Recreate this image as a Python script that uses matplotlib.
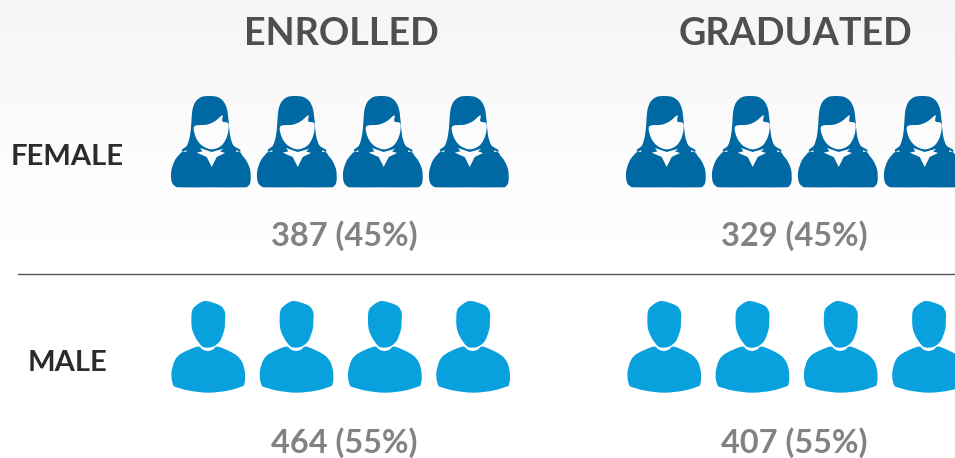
import numpy as np
import matplotlib
matplotlib.use("Agg")
import matplotlib.pyplot as plt
from matplotlib.path import Path
from matplotlib.patches import PathPatch
from matplotlib.transforms import Affine2D

columns = ["ENROLLED", "GRADUATED"]
rows = ["FEMALE", "MALE"]
labels = [["387 (45%)", "329 (45%)"], ["464 (55%)", "407 (55%)"]]
icons_per_row = [4, 4]

female_x = [[210.7, 296.7, 382.7, 468.7], [665.7, 751.7, 837.7, 923.7]]
male_x = [[207.7, 296, 384.3, 472.6], [663.7, 751.9, 840.2, 928.5]]
FEMALE_C, MALE_C = "#0068A3", "#08A0DD"
BLANK = "#FCFCFD"


def smooth(points):
    """Closed Catmull-Rom outline -> Path (zoomed px relative to icon centre)."""
    p = np.array(points, float)
    n = len(p)
    verts = [p[0]]
    codes = [Path.MOVETO]
    for i in range(n):
        p0, p1, p2, p3 = p[i - 1], p[i], p[(i + 1) % n], p[(i + 2) % n]
        verts += [p1 + (p2 - p0) / 6, p2 - (p3 - p1) / 6, p2]
        codes += [Path.CURVE4] * 3
    return Path(verts, codes)


def poly(points):
    return Path(list(points) + [points[0]], [Path.MOVETO] + [Path.LINETO] * (len(points) - 1) + [Path.CLOSEPOLY])


F_HAIR = [(-4, 12), (-28, 15), (-46, 30), (-55, 55), (-58, 90), (-62, 130), (-71, 160), (-86, 178), (-40, 200),
          (40, 200), (89, 178), (68, 160), (58, 130), (54, 90), (49, 52), (38, 28), (20, 15)]
F_BODY = [(-78, 178), (-96, 190), (-109, 208), (-118, 235), (-119, 258), (-115, 274), (-106, 283), (-92, 286), (0, 286),
          (98, 286), (111, 283), (118, 274), (120, 258), (118, 232), (108, 208), (96, 192), (80, 178), (0, 165)]
F_FACE = [(-49, 103), (-12, 98), (12, 88), (35, 70), (35, 88), (53, 95), (50, 130), (33, 160), (3, 172),
          (-27, 160), (-45, 135)]
F_COLLAR = [(-42, 182), (-25, 178), (-32, 168), (3, 180), (38, 170), (28, 178), (43, 183), (18, 195), (3, 225),
            (-12, 195)]
F_NOTCH_L = [(-85, 178), (-73, 175), (-73, 180)]
F_NOTCH_R = [(88, 178), (76, 175), (76, 180)]
M_HEAD = [(-8, 15), (22, 22), (42, 32), (52, 50), (52, 75), (50, 100), (38, 133), (20, 150), (0, 155), (-18, 150),
          (-38, 122), (-48, 92), (-47, 45), (-30, 25)]
M_BODY = [(-31, 152), (-15, 161), (0, 165), (15, 161), (32, 152), (82, 175), (103, 198), (111, 225), (112, 250),
          (109, 266), (104, 271), (60, 284), (2, 290), (-55, 284), (-96, 273), (-103, 268), (-108, 250), (-108, 225),
          (-98, 192), (-78, 172)]

plt.rcParams["font.family"] = ["Lato", "DejaVu Sans"]
fig = plt.figure(figsize=(9.55, 4.58), dpi=100)
ax = fig.add_axes([0, 0, 1, 1])
ax.axis("off")

grad = np.array([0.963, 0.968, 0.975, 0.982, 0.988, 0.993, 0.997, 1, 1, 1, 1, 1])[:, None]
ax.imshow(grad, extent=[0, 955, 458, 0], cmap="gray", vmin=0, vmax=1, aspect="auto", interpolation="bicubic", zorder=0)
ax.set_xlim(0, 955)
ax.set_ylim(458, 0)


def place(path, cx, top, color, z=2):
    tr = Affine2D().scale(1 / 3).translate(cx, top) + ax.transData
    ax.add_patch(PathPatch(path, transform=tr, facecolor=color, edgecolor="none", zorder=z, clip_on=True))


for col in range(2):
    for cx in female_x[col][:icons_per_row[0]]:
        place(smooth(F_HAIR), cx, 92, FEMALE_C)
        place(smooth(F_BODY), cx, 92, FEMALE_C)
        place(smooth(F_FACE), cx, 92, BLANK, 3)
        place(poly(F_COLLAR), cx, 92, BLANK, 3)
        place(poly(F_NOTCH_L), cx, 92, BLANK, 3)
        place(poly(F_NOTCH_R), cx, 92, BLANK, 3)
    for cx in male_x[col][:icons_per_row[1]]:
        place(smooth(M_HEAD), cx, 296, MALE_C)
        place(smooth(M_BODY), cx, 296, MALE_C)

title_x = [341.5, 795.5]
for x, t in zip(title_x, columns):
    ax.text(x, 34, t, ha="center", va="center", fontsize=27.2, fontweight="bold", color="#4D4F51")
for y, x, t in zip([157, 363], [67, 67], rows):
    ax.text(x, y, t, ha="center", va="center", fontsize=21, fontweight="bold", color="#2B2B2D")
label_x = [344.5, 794.5]
label_y = [236, 443]
for r in range(2):
    for c in range(2):
        ax.text(label_x[c], label_y[r], labels[r][c], ha="center", va="center", fontsize=23.4,
                fontweight="bold", color="#828284")
ax.plot([18, 955], [274, 274], color="#555557", lw=1.0, zorder=2)

fig.savefig("out.png", dpi=100)
